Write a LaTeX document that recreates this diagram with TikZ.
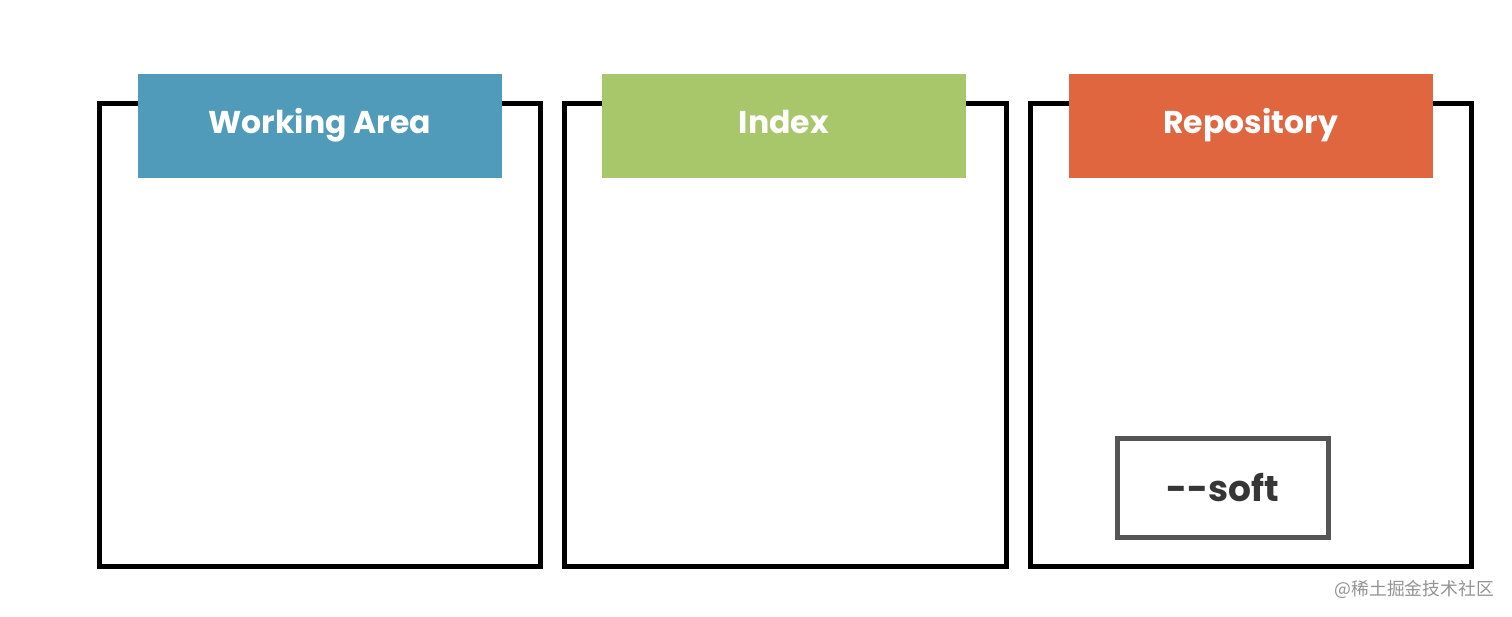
\documentclass[tikz,border=0pt]{standalone}
\usepackage{fontspec}
\setmainfont{Poppins}
\newfontfamily\cjk{Noto Sans CJK SC}
\definecolor{wablue}{HTML}{4F9BB9}
\definecolor{idxgreen}{HTML}{A8C66A}
\definecolor{repored}{HTML}{E06640}
\definecolor{softgray}{HTML}{555555}
\definecolor{softtext}{HTML}{363636}
\begin{document}
\begin{tikzpicture}[x=1pt,y=-1pt,
  area/.style={draw=black,line width=5pt},
  header/.style={anchor=north west,minimum width=364pt,minimum height=104pt,inner sep=0pt,text height=22pt,text depth=7pt,text=white,font=\fontsize{31.5}{31.5}\selectfont\bfseries},
  optbox/.style={draw=softgray,line width=5pt,minimum width=211pt,minimum height=99pt,inner sep=0pt,text height=27pt,text depth=0pt,text=softtext,font=\fontsize{36}{36}\selectfont\bfseries}]
\useasboundingbox (0,0) rectangle (1512,617);
\fill[white] (0,0) rectangle (1512,617);
% area frames
\draw[area] (99,103.5) rectangle (540,566);
\draw[area] (564,103.5) rectangle (1006,566);
\draw[area] (1030,103.5) rectangle (1471,566);
% headers
\node[header,fill=wablue] (wa) at (137.5,73.5) {Working Area};
\node[header,fill=idxgreen] (ix) at (601.5,73.5) {Index};
\node[header,fill=repored] (repo) at (1068.5,73.5) {Repository};
% option
\node[optbox] (soft) at (1222.5,487.5) {{-}{-}soft};
% watermark
\node[anchor=east,inner sep=0pt,text=gray!85,font=\cjk\fontsize{17.8}{17.8}\selectfont] (wm) at (1494,589) {@稀土掘金技术社区};
\end{tikzpicture}
\end{document}
